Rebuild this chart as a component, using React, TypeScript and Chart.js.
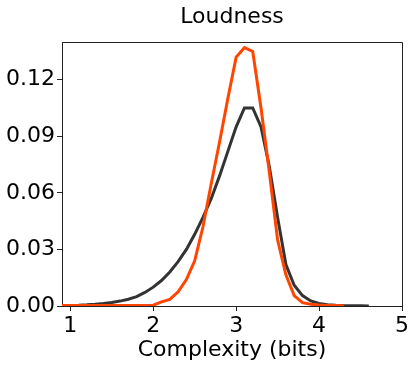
import React, { useEffect, useRef } from "react";
import { Chart, registerables } from "chart.js";

Chart.register(...registerables);

const TITLE = "Loudness";
const X_LABEL = "Complexity (bits)";
const X_TICKS = [1, 2, 3, 4, 5];
const Y_TICKS = [0, 0.03, 0.06, 0.09, 0.12];

const GRAY_X = [0.9, 1.0, 1.1, 1.2, 1.3, 1.4, 1.5, 1.6, 1.7, 1.8, 1.9, 2.0, 2.1, 2.2, 2.3, 2.4, 2.5, 2.6, 2.7, 2.8, 2.9, 3.0, 3.1, 3.2, 3.3, 3.4, 3.5, 3.6, 3.7, 3.8, 3.9, 4.0, 4.1, 4.2, 4.3, 4.4, 4.5, 4.6];
const GRAY_Y = [0.0002, 0.0003, 0.0004, 0.0006, 0.0009, 0.0013, 0.0019, 0.0026, 0.0036, 0.005, 0.0072, 0.010, 0.0135, 0.018, 0.0235, 0.030, 0.038, 0.047, 0.057, 0.069, 0.082, 0.095, 0.105, 0.105, 0.095, 0.074, 0.047, 0.022, 0.011, 0.0055, 0.0027, 0.0014, 0.0007, 0.0004, 0.0002, 0.0001, 0.0001, 0.0];

const ORANGE_X = [0.9, 1.0, 1.1, 1.2, 1.3, 1.4, 1.5, 1.6, 1.7, 1.8, 1.9, 2.0, 2.1, 2.2, 2.3, 2.4, 2.5, 2.6, 2.7, 2.8, 2.9, 3.0, 3.1, 3.2, 3.3, 3.4, 3.5, 3.6, 3.7, 3.8, 3.9, 4.0, 4.1, 4.2, 4.3];
const ORANGE_Y = [0.0002, 0.0002, 0.0002, 0.0002, 0.0002, 0.0002, 0.0002, 0.0002, 0.0002, 0.0002, 0.0002, 0.0004, 0.0022, 0.0035, 0.0075, 0.014, 0.024, 0.042, 0.065, 0.087, 0.110, 0.132, 0.137, 0.135, 0.105, 0.071, 0.035, 0.0165, 0.0055, 0.0018, 0.0009, 0.0005, 0.0003, 0.0002, 0.0001];

const FONT = "'DejaVu Sans', sans-serif";

export default function App() {
  const ref = useRef<HTMLCanvasElement | null>(null);
  useEffect(() => {
    document.body.style.margin = "0";
    const ctx = ref.current!;
    const frame = {
      id: "frame",
      afterDatasetsDraw(chart: any) {
        const { left, right, top, bottom } = chart.chartArea;
        const c = chart.ctx;
        c.save();
        c.strokeStyle = "#222";
        c.lineWidth = 1;
        c.beginPath();
        c.moveTo(left, top + 0.5);
        c.lineTo(right + 0.5, top + 0.5);
        c.lineTo(right + 0.5, bottom);
        c.stroke();
        c.fillStyle = "#000";
        c.font = "22px " + FONT;
        c.textAlign = "center";
        c.textBaseline = "alphabetic";
        c.fillText(TITLE, (left + right) / 2, 23);
        c.restore();
      },
    };
    const chart = new Chart(ctx, {
      type: "line",
      data: {
        datasets: [
          {
            label: "orange",
            data: ORANGE_X.map((x, i) => ({ x, y: ORANGE_Y[i] })),
            borderColor: "#ff4500",
            borderWidth: 3,
            pointRadius: 0,
            fill: false,
            tension: 0,
            order: 0,
          },
          {
            label: "gray",
            data: GRAY_X.map((x, i) => ({ x, y: GRAY_Y[i] })),
            borderColor: "#333333",
            borderWidth: 3,
            pointRadius: 0,
            fill: false,
            tension: 0,
            order: 1,
          },
        ],
      },
      options: {
        animation: false,
        responsive: false,
        layout: { padding: { top: 42, right: 14, left: 0, bottom: 0 } },
        plugins: { legend: { display: false }, tooltip: { enabled: false }, title: { display: false } },
        scales: {
          x: {
            type: "linear",
            min: 0.9,
            max: 5,
            afterBuildTicks: (s: any) => { s.ticks = X_TICKS.map((v) => ({ value: v })); },
            afterFit: (s: any) => { s.height = 61; },
            ticks: { color: "#000", font: { family: FONT, size: 22 }, padding: 2, maxRotation: 0, callback: (v: any) => String(v) },
            grid: { drawOnChartArea: false, drawTicks: true, tickLength: 5, color: "#222" },
            border: { display: true, color: "#222", width: 1 },
            title: { display: true, text: X_LABEL, color: "#000", font: { family: FONT, size: 22 }, padding: { top: 0, bottom: 4 } },
          },
          y: {
            min: 0,
            max: 0.14,
            afterBuildTicks: (s: any) => { s.ticks = Y_TICKS.map((v) => ({ value: v })); },
            afterFit: (s: any) => { s.width = 62; },
            ticks: { color: "#000", font: { family: FONT, size: 22 }, padding: 2, callback: (v: any) => Number(v).toFixed(2) },
            grid: { drawOnChartArea: false, drawTicks: true, tickLength: 5, color: "#222" },
            border: { display: true, color: "#222", width: 1 },
          },
        },
      },
      plugins: [frame],
    } as any);
    return () => chart.destroy();
  }, []);
  return (
    <div style={{ width: 416, height: 367, background: "#fff" }}>
      <canvas ref={ref} width={416} height={367} style={{ display: "block" }} />
    </div>
  );
}
